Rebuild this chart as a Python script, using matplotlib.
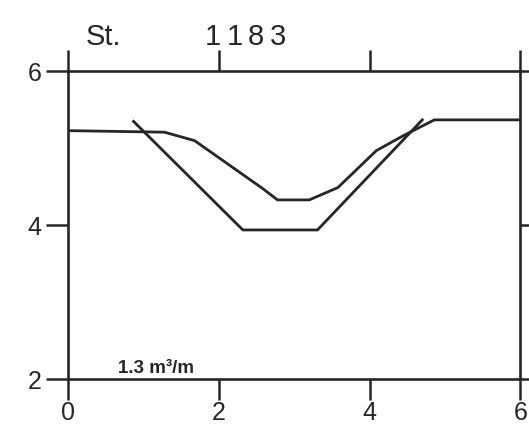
import numpy as np
from matplotlib import pyplot as plt
from matplotlib import rcParams

rcParams['font.family'] = ['Liberation Sans', 'DejaVu Sans']

# profile before (smooth) and after (trapezoid cut)
x_profile = [0.0, 1.28, 1.68, 2.58, 2.78, 3.20, 3.58, 4.09, 4.44, 4.86, 6.0]
y_profile = [5.23, 5.21, 5.10, 4.48, 4.33, 4.33, 4.49, 4.97, 5.16, 5.37, 5.37]

x_cut = [0.87, 2.32, 3.31, 4.70]
y_cut = [5.35, 3.94, 3.94, 5.37]

xticks = [0, 2, 4, 6]
yticks = [2, 4, 6]
station = '1183'
volume = '1.3 m\u00b3/m'

ink = '#262626'

fig = plt.figure(figsize=(5.29, 4.30), dpi=100)
ax = fig.add_axes([0.1285, 0.118, 0.855, 0.716])

ax.plot(x_profile, y_profile, '-', color=ink, lw=2.0, solid_joinstyle='miter')
ax.plot(x_cut, y_cut, '-', color=ink, lw=2.0, solid_joinstyle='miter')

ax.set_xlim(0, 6)
ax.set_ylim(2, 6)
ax.set_xticks(xticks)
ax.set_yticks(yticks)
ax.tick_params(direction='out', length=16, width=1.8, color=ink,
               labelsize=18, pad=3, top=True, right=True,
               labeltop=False, labelright=False, labelcolor=ink)
ax.tick_params(axis='x', length=15, pad=1)
for s in ax.spines.values():
    s.set_linewidth(1.9)
    s.set_color(ink)

ax.text(0.66, 2.08, volume, fontsize=13.5, fontweight='bold', color=ink)
fig.text(86 / 529, 1 - 45 / 430, 'St.', fontsize=21, color=ink)
# station number is printed with wide letter spacing
for i, ch in enumerate(station):
    fig.text((205 + 21.5 * i) / 529, 1 - 45 / 430, ch, fontsize=21, color=ink)

plt.savefig('out.png', dpi=100)
plt.close()
